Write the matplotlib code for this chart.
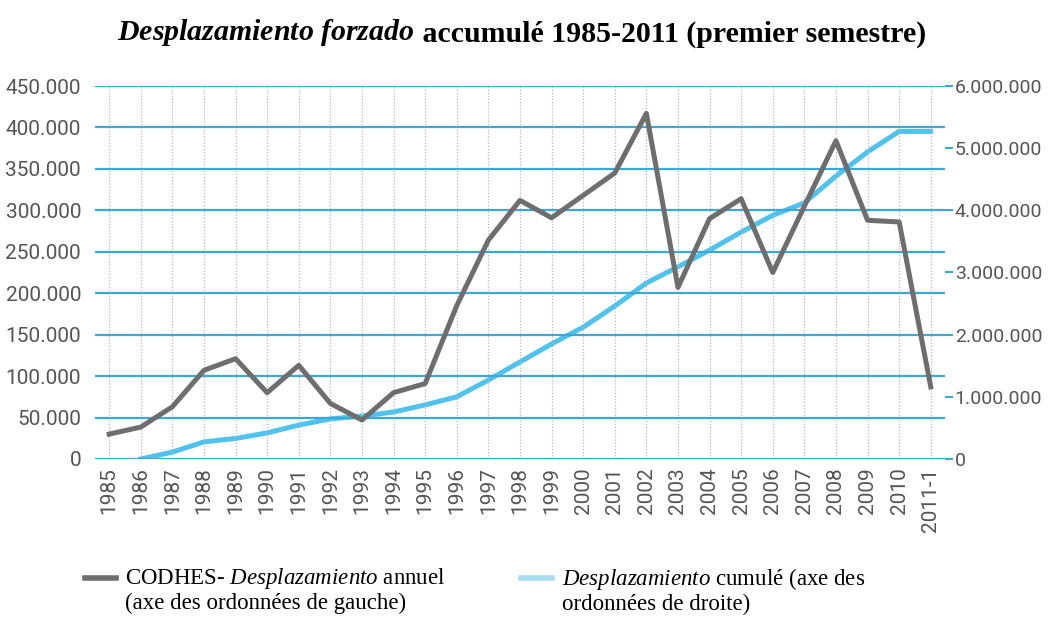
import matplotlib
matplotlib.use("Agg")
import matplotlib.pyplot as plt
from matplotlib.lines import Line2D
from matplotlib.ticker import FuncFormatter

# données
years = ["1985", "1986", "1987", "1988", "1989", "1990", "1991", "1992", "1993",
         "1994", "1995", "1996", "1997", "1998", "1999", "2000", "2001", "2002",
         "2003", "2004", "2005", "2006", "2007", "2008", "2009", "2010", "2011-1"]
annual = [30000, 38500, 63000, 107000, 121000, 80000, 113000, 67000, 47000,
          80000, 91000, 185000, 264000, 312000, 291000, 318000, 345000, 417000,
          207000, 290000, 314000, 225000, 305000, 384000, 288000, 286000, 87000]
cumul_years = years[1:]
cumul = [0, 110000, 275000, 330000, 420000, 545000, 645000, 690000,
         755000, 870000, 1000000, 1270000, 1560000, 1850000, 2120000, 2460000, 2830000,
         3090000, 3360000, 3650000, 3920000, 4120000, 4550000, 4940000, 5270000, 5270000]

gray = "#6e6e6e"
blue = "#4fc3ee"
grid_blue = "#3aa9d6"
txt = "#555555"

plt.rcParams["font.family"] = ["Roboto", "DejaVu Sans"]
plt.rcParams["mathtext.fontset"] = "custom"
plt.rcParams["mathtext.rm"] = "Liberation Serif"
plt.rcParams["mathtext.it"] = "Liberation Serif:italic"
plt.rcParams["mathtext.bf"] = "Liberation Serif:bold"
plt.rcParams["mathtext.bfit"] = "Liberation Serif:bold:italic"

fig = plt.figure(figsize=(10.48, 6.21), dpi=100)
ax = fig.add_axes([0.0906, 0.2609, 0.8111, 0.6006])
ax2 = ax.twinx()

x = list(range(len(years)))
xc = [years.index(y) for y in cumul_years]

# grille
for xi in x:
    ax.axvline(xi, color="#b8b8b8", lw=0.9, ls=(0, (1, 1.5)), zorder=0)
for yv in range(0, 450001, 50000):
    ax.axhline(yv, color=grid_blue, lw=1.6, zorder=1)

ax.plot(x, annual, color=gray, lw=3.6, zorder=4)
ax2.plot(xc, cumul, color=blue, lw=3.6, zorder=3)

ax.set_xlim(-0.45, 26.45)
ax.set_ylim(0, 450000)
ax2.set_ylim(0, 6000000)
ax.set_xticks(x)
ax.set_xticklabels(years, rotation=90, fontsize=15, color=txt)
ax.set_yticks(range(0, 450001, 50000))
ax2.set_yticks(range(0, 6000001, 1000000))

fmt = FuncFormatter(lambda v, p: "0" if v == 0 else f"{int(v):,}".replace(",", "."))
ax.yaxis.set_major_formatter(fmt)
ax2.yaxis.set_major_formatter(fmt)

ax.tick_params(axis="x", length=0, pad=6)
ax.tick_params(axis="y", length=0, pad=10, labelsize=15, labelcolor=txt)
ax2.tick_params(axis="y", length=6, width=1.5, color=grid_blue, pad=1,
                labelsize=14, labelcolor=txt)
for a in (ax, ax2):
    for s in a.spines.values():
        s.set_visible(False)
ax.set_zorder(ax2.get_zorder() + 1)
ax.patch.set_visible(False)

# titre
t1 = fig.text(0.112, 0.935, r"$\mathbfit{Desplazamiento\ forzado}$", fontsize=21.5,
              va="baseline", ha="left")
ax.annotate(" accumulé 1985-2011 (premier semestre)", xy=(1, 0), xycoords=t1,
            fontsize=21.5, family="Liberation Serif", weight="bold",
            va="bottom", ha="left", annotation_clip=False)

# légende
fig.add_artist(Line2D([0.081, 0.111], [0.069, 0.069], color=gray, lw=4,
                      transform=fig.transFigure))
fig.add_artist(Line2D([0.497, 0.527], [0.069, 0.069], color="#a9ddf2", lw=4,
                      transform=fig.transFigure))
fig.text(0.119, 0.088, r"CODHES- $\mathit{Desplazamiento}$ annuel" "\n"
         "(axe des ordonnées de gauche)", fontsize=16.5, family="Liberation Serif",
         va="top", ha="left", linespacing=1.1)
fig.text(0.536, 0.088, r"$\mathit{Desplazamiento}$ cumulé (axe des" "\n"
         "ordonnées de droite)", fontsize=16.5, family="Liberation Serif",
         va="top", ha="left", linespacing=1.1)

fig.savefig("out.png", dpi=100)
